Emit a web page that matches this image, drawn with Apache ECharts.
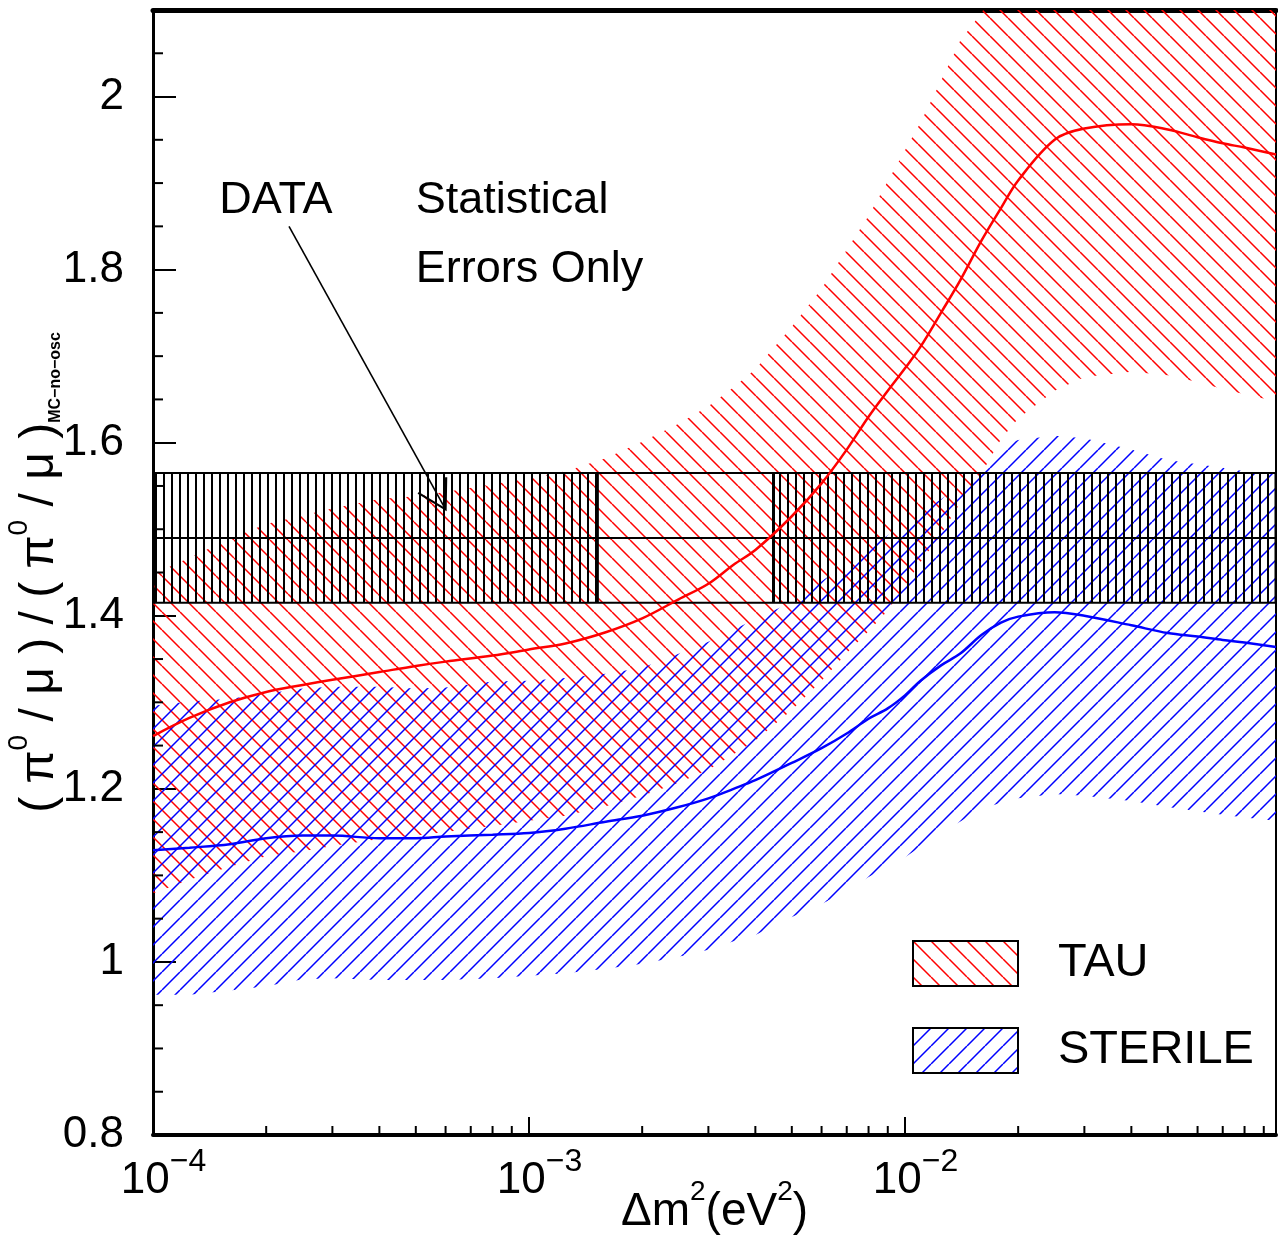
<!DOCTYPE html>
<html>
<head>
<meta charset="utf-8">
<script src="https://cdn.jsdelivr.net/npm/echarts@6/dist/echarts.min.js"></script>
<style>
  html, body { margin: 0; padding: 0; background: #fff; }
  #chart { width: 1278px; height: 1236px; }
</style>
</head>
<body>
<div id="chart"></div>
<script>
// Δm² sample points (eV²) shared by all curves
const dm2 = [1e-4, 1.25e-4, 1.6e-4, 2e-4, 2.5e-4, 3e-4, 4e-4, 5e-4, 6e-4, 8e-4,
  1e-3, 1.25e-3, 1.6e-3, 2e-3, 2.5e-3, 3e-3, 3.5e-3, 4e-3, 5e-3, 6e-3, 7e-3, 8e-3, 9e-3,
  1e-2, 1.1e-2, 1.25e-2, 1.4e-2, 1.6e-2, 1.8e-2, 2e-2, 2.5e-2, 3e-2, 4e-2, 5e-2, 6e-2, 7e-2, 8e-2, 0.097];

// νμ → ντ expectation: central value and band edges
const tauMid = [1.261, 1.282, 1.300, 1.312, 1.320, 1.326, 1.335, 1.342, 1.347, 1.354,
  1.361, 1.368, 1.381, 1.397, 1.419, 1.437, 1.459, 1.476, 1.515, 1.553, 1.592, 1.630, 1.660,
  1.686, 1.711, 1.751, 1.787, 1.834, 1.871, 1.903, 1.950, 1.963, 1.968, 1.962, 1.953, 1.946, 1.941, 1.933];
const tauHigh = [1.448, 1.467, 1.489, 1.506, 1.516, 1.524, 1.535, 1.538, 1.543, 1.552,
  1.559, 1.567, 1.582, 1.601, 1.622, 1.642, 1.664, 1.685, 1.734, 1.778, 1.823, 1.862, 1.902,
  1.938, 1.970, 2.019, 2.064, 2.097, 2.14, 2.17, 2.23, 2.26, 2.29, 2.30, 2.30, 2.30, 2.30, 2.30];
const tauLow = [1.079, 1.095, 1.110, 1.122, 1.128, 1.134, 1.142, 1.146, 1.150, 1.157,
  1.163, 1.169, 1.180, 1.192, 1.207, 1.222, 1.240, 1.256, 1.291, 1.325, 1.357, 1.382, 1.406,
  1.435, 1.462, 1.495, 1.530, 1.565, 1.604, 1.628, 1.660, 1.676, 1.682, 1.678, 1.670, 1.662, 1.656, 1.648];

// νμ → νs expectation: central value and band edges
const sterMid = [1.129, 1.132, 1.136, 1.143, 1.146, 1.146, 1.143, 1.143, 1.145, 1.147,
  1.149, 1.154, 1.162, 1.169, 1.179, 1.189, 1.200, 1.210, 1.230, 1.247, 1.264, 1.281, 1.293,
  1.308, 1.325, 1.343, 1.356, 1.378, 1.392, 1.399, 1.404, 1.400, 1.389, 1.380, 1.376, 1.372, 1.369, 1.364];
const sterHigh = [1.296, 1.301, 1.304, 1.310, 1.316, 1.318, 1.318, 1.316, 1.317, 1.324,
  1.325, 1.328, 1.333, 1.340, 1.356, 1.370, 1.384, 1.396, 1.416, 1.440, 1.460, 1.478, 1.493,
  1.507, 1.520, 1.535, 1.551, 1.572, 1.596, 1.603, 1.608, 1.605, 1.592, 1.580, 1.575, 1.571, 1.567, 1.564];
const sterLow = [0.962, 0.962, 0.967, 0.972, 0.980, 0.981, 0.979, 0.979, 0.979, 0.981,
  0.984, 0.987, 0.992, 0.998, 1.006, 1.014, 1.024, 1.031, 1.052, 1.067, 1.082, 1.098, 1.110,
  1.121, 1.133, 1.150, 1.162, 1.177, 1.184, 1.189, 1.194, 1.192, 1.186, 1.179, 1.174, 1.170, 1.167, 1.163];

// measured ratio with its statistical error, and the hatched spans of the box
const dataValue = 1.49;
const dataError = 0.075;
const dataHatchFrom = [1e-4, 4.47e-3];
const dataHatchTo = [1.52e-3, 0.097];

// axis ranges and minor tick positions
const xRange = [1e-4, 0.097];
const yRange = [0.8, 2.1];
const xMinorTicks = [2e-4, 3e-4, 4e-4, 5e-4, 6e-4, 7e-4, 8e-4, 9e-4,
  2e-3, 3e-3, 4e-3, 5e-3, 6e-3, 7e-3, 8e-3, 9e-3,
  2e-2, 3e-2, 4e-2, 5e-2, 6e-2, 7e-2, 8e-2, 9e-2];
const yMinorTicks = [0.85, 0.9, 0.95, 1.05, 1.1, 1.15, 1.25, 1.3, 1.35, 1.45, 1.5, 1.55,
  1.65, 1.7, 1.75, 1.85, 1.9, 1.95, 2.05];

// text annotations and the arrow pointing at the data box
const noteText = ['DATA', 'Statistical', 'Errors Only'];
const noteX = [1.5e-4, 5e-4, 5e-4];
const noteY = [1.88, 1.88, 1.80];
const arrowFrom = [2.3e-4, 1.85];
const arrowTo = [6e-4, 1.523];

const FONT = '"Liberation Sans", Arial, Helvetica, sans-serif';

// hatch fill patterns
function makeHatch(color, kind, size, lw) {
  const c = document.createElement('canvas');
  c.width = size; c.height = size;
  const g = c.getContext('2d');
  g.strokeStyle = color; g.lineWidth = lw;
  g.beginPath();
  if (kind === 'back') {
    for (const o of [-size, 0, size]) { g.moveTo(o, 0); g.lineTo(o + size, size); }
  } else if (kind === 'fwd') {
    for (const o of [-size, 0, size]) { g.moveTo(o, size); g.lineTo(o + size, 0); }
  } else {
    g.moveTo(size / 2, 0); g.lineTo(size / 2, size);
  }
  g.stroke();
  return { image: c, repeat: 'repeat' };
}
const tauPattern = makeHatch('#ff0000', 'back', 18, 1.5);
const sterPattern = makeHatch('#0000ff', 'fwd', 18, 1.5);
const dataPattern = makeHatch('#000000', 'vert', 8, 2);

function clipRect(params) {
  const cs = params.coordSys;
  return { type: 'rect', shape: { x: cs.x, y: cs.y, width: cs.width, height: cs.height } };
}

function bandSeries(name, low, high, pattern) {
  return {
    type: 'custom', name: name, clip: true, z: 2,
    itemStyle: { color: pattern },
    data: dm2.map((x, i) => [x, low[i], high[i]]),
    encode: { x: 0, y: [1, 2] },
    renderItem(params, api) {
      if (params.dataIndexInside !== 0) return null;
      const n = params.dataInsideLength;
      const upper = [], lower = [];
      for (let j = 0; j < n; j++) {
        upper.push(api.coord([api.value(0, j), api.value(2, j)]));
        lower.push(api.coord([api.value(0, j), api.value(1, j)]));
      }
      return {
        type: 'polygon',
        shape: { points: upper.concat(lower.reverse()) },
        style: { fill: pattern, stroke: null },
        clipPath: clipRect(params)
      };
    }
  };
}

function lineSeries(name, values, color) {
  return {
    type: 'line', name: name, z: 6, smooth: 0.35, showSymbol: false, symbol: 'none',
    data: dm2.map((x, i) => [x, values[i]]),
    lineStyle: { color: color, width: 2.5 },
    itemStyle: { color: color },
    silent: true
  };
}

const chart = echarts.init(document.getElementById('chart'));

chart.setOption({
  animation: false,
  backgroundColor: '#fff',
  grid: { left: 153, right: 2, top: 10, bottom: 101, containLabel: false, outerBoundsMode: 'none',
          show: true, borderColor: '#000', borderWidth: 2 },
  legend: {
    data: ['TAU', 'STERILE'],
    orient: 'vertical', left: 912, top: 940, padding: 0,
    itemWidth: 105, itemHeight: 45, itemGap: 40,
    icon: 'rect', selectedMode: false,
    itemStyle: { borderColor: '#000', borderWidth: 2 },
    textStyle: { fontFamily: FONT, fontSize: 47, color: '#000', lineHeight: 45, padding: [0, 0, 0, 35] }
  },
  xAxis: [{
    type: 'log', logBase: 10, min: xRange[0], max: xRange[1],
    axisLine: { show: true, lineStyle: { color: '#000', width: 4 } },
    axisTick: { show: true, inside: true, length: 18, lineStyle: { color: '#000', width: 2 } },
    splitLine: { show: false },
    axisLabel: {
      margin: 11, padding: [0, 0, 0, 21],
      formatter(v) {
        const lg = Math.log10(v), e = Math.round(lg);
        return Math.abs(lg - e) < 1e-6 ? '{b|10}{s|\u2212' + (-e) + '}' : '';
      },
      rich: {
        b: { fontFamily: FONT, fontSize: 44, lineHeight: 70, color: '#000', verticalAlign: 'middle' },
        s: { fontFamily: FONT, fontSize: 32, lineHeight: 32, color: '#000', verticalAlign: 'top' }
      }
    },
    name: '{a|\u0394m}{s|2}{a|(eV}{s|2}{a|)}',
    nameLocation: 'middle', nameGap: 43, nameMoveOverlap: false,
    nameTextStyle: {
      rich: {
        a: { fontFamily: FONT, fontSize: 46, lineHeight: 68, color: '#000', verticalAlign: 'middle' },
        s: { fontFamily: FONT, fontSize: 28, lineHeight: 28, color: '#000', verticalAlign: 'top' }
      }
    }
  }, {
    type: 'log', logBase: 10, min: xRange[0], max: xRange[1], position: 'top',
    axisLine: { show: true, lineStyle: { color: '#000', width: 5 } },
    axisTick: { show: false }, axisLabel: { show: false }, splitLine: { show: false }
  }],
  yAxis: {
    type: 'value', min: yRange[0], max: yRange[1], interval: 0.2,
    axisLine: { show: true, lineStyle: { color: '#000', width: 3 } },
    axisTick: { show: true, inside: true, length: 23, lineStyle: { color: '#000', width: 2 } },
    splitLine: { show: false },
    axisLabel: {
      margin: 29, fontFamily: FONT, fontSize: 44, color: '#000',
      formatter(v) { return Math.abs(v - yRange[1]) < 1e-6 ? '' : String(+v.toFixed(2)); }
    },
    name: '{p|( \u03c0}{s|0}{p| / \u03bc ) / ( \u03c0}{s|0}{p| / \u03bc )}{sub|MC\u2212no\u2212osc}',
    nameLocation: 'middle', nameRotate: 90, nameGap: 78, nameMoveOverlap: false,
    nameTextStyle: {
      rich: {
        p: { fontFamily: FONT, fontSize: 48, lineHeight: 70, color: '#000', verticalAlign: 'middle' },
        s: { fontFamily: FONT, fontSize: 28, lineHeight: 28, color: '#000', verticalAlign: 'top' },
        sub: { fontFamily: FONT, fontSize: 16, fontWeight: 'bold', lineHeight: 16, color: '#000',
               verticalAlign: 'bottom', padding: [0, 0, 11, 0] }
      }
    }
  },
  series: [
    bandSeries('TAU', tauLow, tauHigh, tauPattern),
    bandSeries('STERILE', sterLow, sterHigh, sterPattern),
    {
      // hatched statistical-error box of the measurement
      type: 'custom', name: 'DATA', z: 4, clip: true, silent: true,
      data: dataHatchFrom.map((x0, i) => [x0, dataHatchTo[i], dataValue - dataError, dataValue + dataError]),
      encode: { x: [0, 1], y: [2, 3] },
      renderItem(params, api) {
        const a = api.coord([api.value(0), api.value(3)]);
        const b = api.coord([api.value(1), api.value(2)]);
        return {
          type: 'group',
          children: [
            { type: 'rect', shape: { x: a[0], y: a[1], width: b[0] - a[0], height: b[1] - a[1] },
              style: { fill: dataPattern, stroke: null } },
            { type: 'line', shape: { x1: a[0], y1: a[1], x2: a[0], y2: b[1] }, style: { stroke: '#000', lineWidth: 3 } },
            { type: 'line', shape: { x1: b[0], y1: a[1], x2: b[0], y2: b[1] }, style: { stroke: '#000', lineWidth: 3 } }
          ]
        };
      }
    },
    {
      // central value and ±1σ edges across the full range
      type: 'custom', name: 'DATA lines', z: 5, silent: true,
      data: [[xRange[0], dataValue - dataError], [xRange[0], dataValue], [xRange[0], dataValue + dataError]],
      encode: { x: 0, y: 1 },
      renderItem(params, api) {
        const cs = params.coordSys;
        const y = api.coord([api.value(0), api.value(1)])[1];
        return { type: 'line', shape: { x1: cs.x, y1: y, x2: cs.x + cs.width, y2: y },
                 style: { stroke: '#000', lineWidth: 2 } };
      }
    },
    lineSeries('TAU central', tauMid, '#ff0000'),
    lineSeries('STERILE central', sterMid, '#0000ff'),
    {
      type: 'custom', name: 'x minor ticks', z: 8, silent: true,
      data: xMinorTicks.map(x => [x, yRange[0]]),
      encode: { x: 0, y: 1 },
      renderItem(params, api) {
        const p = api.coord([api.value(0), api.value(1)]);
        return { type: 'line', shape: { x1: p[0], y1: p[1], x2: p[0], y2: p[1] - 9 },
                 style: { stroke: '#000', lineWidth: 2 } };
      }
    },
    {
      type: 'custom', name: 'y minor ticks', z: 8, silent: true,
      data: yMinorTicks.map(y => [xRange[0], y]),
      encode: { x: 0, y: 1 },
      renderItem(params, api) {
        const p = api.coord([api.value(0), api.value(1)]);
        return { type: 'line', shape: { x1: p[0], y1: p[1], x2: p[0] + 10, y2: p[1] },
                 style: { stroke: '#000', lineWidth: 2 } };
      }
    },
    {
      type: 'custom', name: 'notes', z: 9, silent: true,
      data: noteX.map((x, i) => [x, noteY[i]]),
      encode: { x: 0, y: 1 },
      renderItem(params, api) {
        const p = api.coord([api.value(0), api.value(1)]);
        return { type: 'text', x: p[0], y: p[1],
                 style: { text: noteText[params.dataIndex], fontFamily: FONT, fontSize: 45,
                          fill: '#000', align: 'left', verticalAlign: 'middle' } };
      }
    },
    {
      type: 'custom', name: 'arrow', z: 9, silent: true,
      data: [[arrowFrom[0], arrowFrom[1], arrowTo[0], arrowTo[1]]],
      encode: { x: [0, 2], y: [1, 3] },
      renderItem(params, api) {
        const p0 = api.coord([api.value(0), api.value(1)]);
        const p1 = api.coord([api.value(2), api.value(3)]);
        const ang = Math.atan2(p1[1] - p0[1], p1[0] - p0[0]);
        const L = 32, h = Math.PI / 6;
        const b1 = [p1[0] - L * Math.cos(ang - h), p1[1] - L * Math.sin(ang - h)];
        const b2 = [p1[0] - L * Math.cos(ang + h), p1[1] - L * Math.sin(ang + h)];
        return {
          type: 'group',
          children: [
            { type: 'line', shape: { x1: p0[0], y1: p0[1], x2: p1[0], y2: p1[1] },
              style: { stroke: '#000', lineWidth: 1.6 } },
            { type: 'polyline', shape: { points: [b1, p1, b2] },
              style: { stroke: '#000', fill: null, lineWidth: 2.2 } }
          ]
        };
      }
    }
  ]
});
</script>
</body>
</html>
